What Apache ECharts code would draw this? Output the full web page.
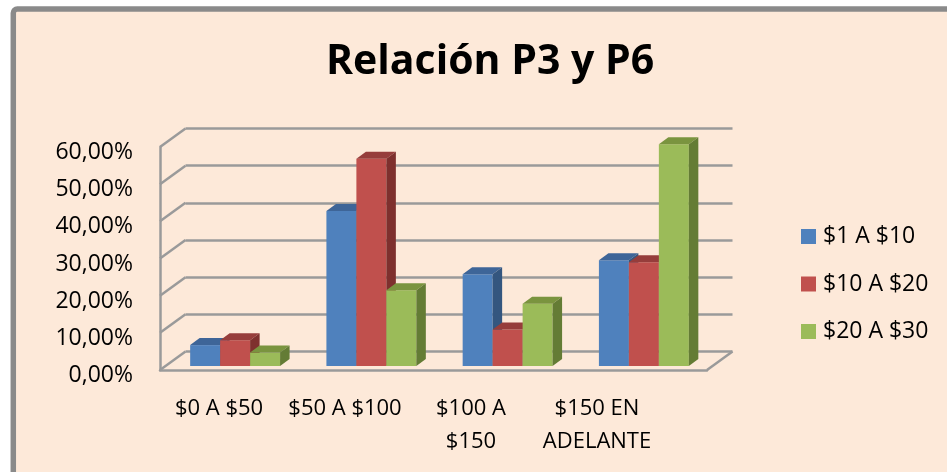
<!DOCTYPE html>
<html>
<head>
<meta charset="utf-8">
<script src="https://cdn.jsdelivr.net/npm/echarts@6/dist/echarts.min.js"></script>
<style>
  html, body { margin: 0; padding: 0; background: #fff; }
  #chart { width: 947px; height: 472px; }
</style>
</head>
<body>
<div id="chart"></div>
<script>
// Data
const categories = ["$0 A $50", "$50 A $100", "$100 A\n$150", "$150 EN\nADELANTE"];
const seriesNames = ["$1 A $10", "$10 A $20", "$20 A $30"];
const s1Values = [0.056, 0.415, 0.246, 0.283];
const s2Values = [0.069, 0.555, 0.098, 0.278];
const s3Values = [0.036, 0.203, 0.167, 0.594];
const yTicks = [0, 0.1, 0.2, 0.3, 0.4, 0.5, 0.6];

// Colors: front, top, side
const faceColors = [
  ["#4F81BD", "#3E6598", "#34567F"],
  ["#C0504D", "#963D3B", "#7E302E"],
  ["#9BBB59", "#7A943F", "#647C35"],
];

const FONT = "'Open Sans', sans-serif";
const LINE = "#9a9a9a";
const DEPTH_X = 25.5;   // wall depth
const DEPTH_Y = -18.5;
const BAR_DX = 9.5;     // bar depth
const BAR_DY = -7;
const BAR_FRAC = 0.22;  // bar width / category width

const chart = echarts.init(document.getElementById("chart"));

function barRender(slot, colors) {
  return function (params, api) {
    const cat = api.value(0);
    const v = api.value(1);
    const base = api.coord([cat, 0]);
    const top = api.coord([cat, v]);
    const w = api.size([1, 0])[0] * BAR_FRAC;
    const x0 = base[0] + (slot - 0.5) * w;
    const x1 = x0 + w;
    const yt = top[1];
    const yb = base[1];
    return {
      type: "group",
      children: [
        {
          type: "rect",
          shape: { x: x0, y: yt, width: w, height: yb - yt },
          style: { fill: colors[0] },
        },
        {
          type: "polygon",
          shape: { points: [[x0, yt], [x1, yt], [x1 + BAR_DX, yt + BAR_DY], [x0 + BAR_DX, yt + BAR_DY]] },
          style: { fill: colors[1] },
        },
        {
          type: "polygon",
          shape: { points: [[x1, yt], [x1 + BAR_DX, yt + BAR_DY], [x1 + BAR_DX, yb + BAR_DY], [x1, yb]] },
          style: { fill: colors[2] },
        },
      ],
    };
  };
}

function wallRender(params, api) {
  const v = api.value(1);
  const y = api.coord([0, v])[1];
  const cs = params.coordSys;
  const children = [
    {
      type: "line",
      shape: { x1: cs.x, y1: y, x2: cs.x + DEPTH_X, y2: y + DEPTH_Y },
      style: { stroke: LINE, lineWidth: 2.5 },
    },
  ];
  if (v === 0) {
    const xr = cs.x + cs.width;
    children.push({
      type: "line",
      shape: { x1: xr, y1: y, x2: xr + DEPTH_X, y2: y + DEPTH_Y },
      style: { stroke: LINE, lineWidth: 2.5 },
    });
  }
  return { type: "group", children: children };
}

const pctLabel = (v) => (v * 100).toFixed(2).replace(".", ",") + "%";

// front plane
const front = { left: 160, right: 240, top: 147, bottom: 102 };

const option = {
  backgroundColor: "#ffffff",
  animation: false,
  graphic: [
    {
      type: "rect",
      z: -10,
      silent: true,
      shape: { x: 13.3, y: 9, width: 960, height: 480, r: 4 },
      style: { fill: "#FDE9D9", stroke: "#8a8a8a", lineWidth: 5.5 },
    },
  ],
  title: {
    text: "Relación P3 y P6",
    left: 326,
    top: 42,
    padding: 0,
    textStyle: { fontFamily: FONT, fontWeight: "bold", fontSize: 41, color: "#000" },
  },
  legend: {
    data: seriesNames,
    orient: "vertical",
    left: 801,
    top: 224.5,
    padding: 0,
    icon: "rect",
    itemWidth: 15,
    itemHeight: 15,
    itemGap: 23.5,
    selectedMode: false,
    textStyle: { fontFamily: FONT, fontSize: 23, lineHeight: 24, color: "#000", padding: [0, 0, 0, 2] },
  },
  grid: [
    // bars plane
    { left: 167, right: 235, top: 142, bottom: 106 },
    // front plane
    front,
    // back wall
    {
      left: front.left + DEPTH_X,
      right: front.right - DEPTH_X,
      top: front.top + DEPTH_Y,
      bottom: front.bottom - DEPTH_Y,
    },
    // axis labels (Excel draws them a little below the front plane)
    { left: 156, right: 287, top: 152.5, bottom: 96.5 },
  ],
  xAxis: [
    { type: "category", gridIndex: 0, data: categories, show: false },
    {
      type: "category", gridIndex: 1, data: categories,
      axisLine: { show: true, lineStyle: { color: LINE, width: 2.5 } },
      axisTick: { show: false }, axisLabel: { show: false },
    },
    { type: "category", gridIndex: 2, data: categories, show: false },
    {
      type: "category", gridIndex: 3, data: categories,
      axisLine: { show: false }, axisTick: { show: false },
      axisLabel: {
        margin: 16.5, interval: 0, fontFamily: FONT, fontSize: 22, lineHeight: 33, color: "#000",
      },
    },
  ],
  yAxis: [
    { type: "value", gridIndex: 0, min: yTicks[0], max: yTicks[yTicks.length - 1], interval: 0.1, show: false },
    {
      type: "value", gridIndex: 1, min: yTicks[0], max: yTicks[yTicks.length - 1], interval: 0.1,
      axisLine: { show: true, lineStyle: { color: LINE, width: 2.5 } },
      axisTick: { show: false },
      splitLine: { show: false },
      axisLabel: { show: false },
    },
    {
      type: "value", gridIndex: 2, min: yTicks[0], max: yTicks[yTicks.length - 1], interval: 0.1,
      axisLine: { show: false }, axisTick: { show: false }, axisLabel: { show: false },
      splitLine: { show: true, lineStyle: { color: LINE, width: 2.5 } },
    },
    {
      type: "value", gridIndex: 3, min: yTicks[0], max: yTicks[yTicks.length - 1], interval: 0.1,
      axisLine: { show: false }, axisTick: { show: false }, splitLine: { show: false },
      axisLabel: { margin: 23, fontFamily: FONT, fontSize: 23, color: "#000", formatter: pctLabel },
    },
  ],
  series: [
    {
      type: "custom",
      xAxisIndex: 1,
      yAxisIndex: 1,
      z: 1,
      silent: true,
      renderItem: wallRender,
      data: yTicks.map((v) => [0, v]),
    },
    ...[s1Values, s2Values, s3Values].map((vals, i) => ({
      name: seriesNames[i],
      type: "custom",
      xAxisIndex: 0,
      yAxisIndex: 0,
      z: 3 + i,
      itemStyle: { color: faceColors[i][0] },
      renderItem: barRender(i - 1, faceColors[i]),
      encode: { x: 0, y: 1 },
      data: vals.map((v, c) => [c, v]),
    })),
  ],
};

chart.setOption(option);
</script>
</body>
</html>
